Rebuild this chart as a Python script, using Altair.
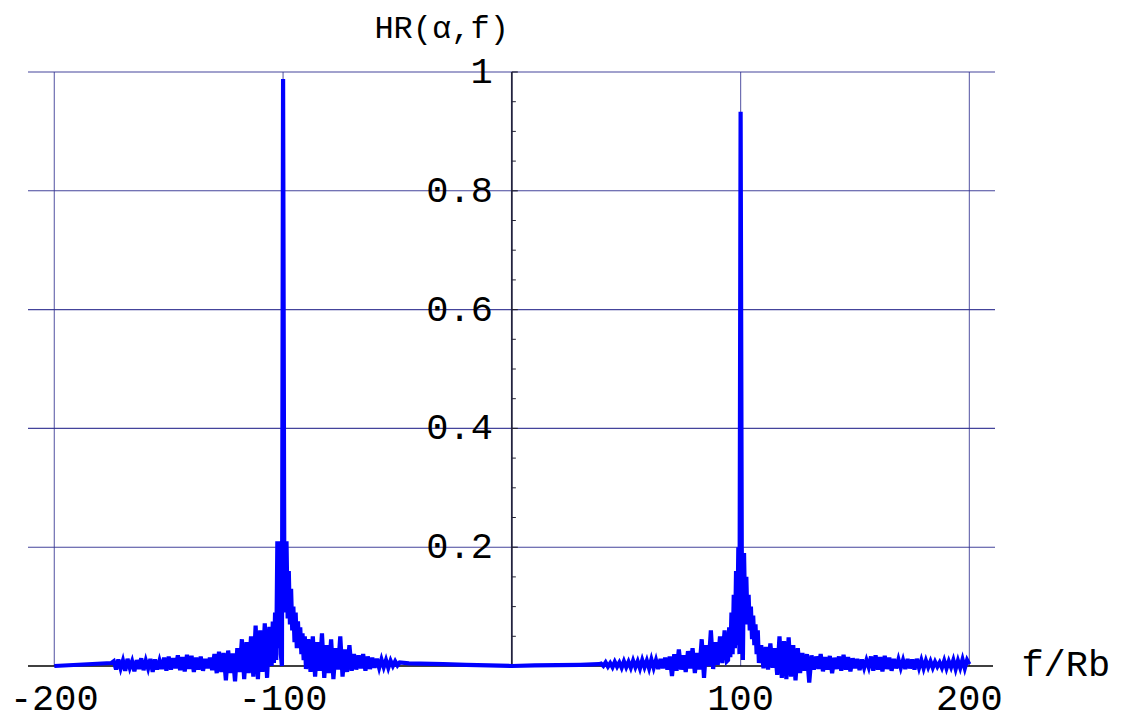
import altair as alt
import pandas as pd
import numpy as np

# ---------------- data ----------------
start_f = [-200.0, -175.0]
start_v = [0.0, 0.005]

left_noise_f = np.arange(-174, -104, 1.0)          # -174 .. -105
left_noise_v = [
    0.008, -0.006, 0.011, -0.004, 0.009, -0.008, 0.012, -0.003, 0.008, -0.009,
    0.010, -0.005, 0.013, -0.007, 0.009, -0.004, 0.012, -0.010, 0.011, -0.006,
    0.009, -0.005, 0.014, -0.008, 0.016, -0.006, 0.013, -0.004, 0.018, -0.007,
    0.015, -0.009, 0.019, -0.005, 0.017, -0.010, 0.014, -0.006, 0.016, -0.008,
    0.012, -0.004, 0.014, -0.007, 0.020, -0.012, 0.024, -0.010, 0.022, -0.024,
    0.026, -0.012, 0.021, -0.026, 0.030, -0.010, 0.045, -0.022, 0.040, -0.012,
    0.050, -0.018, 0.068, -0.022, 0.060, -0.010, 0.072, -0.020, 0.066, 0.000,
]

left_peak_f = np.arange(-104.5, -89.75, 0.5)       # -104.5 .. -90.0
left_peak_v = [
    0.075, 0.005, 0.09, 0.01, 0.21, 0.03, 0.21, 0.02, 0.0, 0.988,
    0.21, 0.09, 0.21, 0.08, 0.16, 0.07, 0.13, 0.06, 0.10, 0.04,
    0.09, 0.03, 0.075, 0.03, 0.065, 0.02, 0.055, 0.01, 0.05, -0.005,
]

left_tail_f = np.arange(-89, -48, 1.0)             # -89 .. -49
left_tail_v = [
    0.045, -0.010, 0.050, -0.018, 0.040, -0.008, 0.055, -0.020, 0.035, -0.012,
    0.045, -0.022, 0.030, -0.006, 0.050, -0.018, 0.028, -0.010, 0.035, -0.008,
    0.020, -0.006, 0.018, -0.004, 0.020, -0.008, 0.016, -0.005, 0.014, -0.003,
    0.012, -0.003, 0.011, -0.002, 0.010, -0.003, 0.009, 0.000, 0.008, 0.001, 0.006,
]

center_f = [-45.0, -40.0, -30.0, -20.0, -10.0, 0.0, 10.0, 20.0, 30.0, 38.0]
center_v = [0.0045, 0.004, 0.003, 0.002, 0.001, 0.0, 0.001, 0.0015, 0.002, 0.003]

right_rise_f = np.arange(39, 95, 1.0)              # 39 .. 94
right_rise_v = [
    0.004, 0.000, 0.006, -0.001, 0.005, -0.002, 0.007, -0.001, 0.006, -0.003,
    0.008, -0.002, 0.007, -0.003, 0.009, -0.002, 0.008, -0.004, 0.010, -0.002,
    0.009, -0.004, 0.011, -0.003, 0.010, -0.005, 0.012, -0.004, 0.014, -0.006,
    0.016, -0.017, 0.020, -0.008, 0.028, -0.006, 0.018, -0.010, 0.025, -0.004,
    0.030, -0.012, 0.022, -0.006, 0.045, -0.020, 0.035, 0.000, 0.060, -0.005,
    0.040, 0.002, 0.050, 0.005, 0.060, 0.008,
]

right_peak_f = np.arange(94.5, 108.25, 0.5)        # 94.5 .. 108.0
right_peak_v = [
    0.01, 0.065, 0.015, 0.09, 0.02, 0.12, 0.03, 0.16, 0.035, 0.20,
    0.02, 0.933, 0.20, 0.01, 0.19, 0.08, 0.15, 0.07, 0.12, 0.06,
    0.10, 0.045, 0.085, 0.035, 0.07, 0.02, 0.06, 0.005,
]

right_tail_f = np.arange(109, 201, 1.0)            # 109 .. 200
right_tail_v = [
    0.035, -0.004, 0.032, -0.006, 0.038, -0.003, 0.030, -0.015, 0.050, -0.020,
    0.042, -0.022, 0.048, -0.018, 0.035, -0.024, 0.030, -0.012, 0.022, -0.008,
    0.020, -0.028, 0.018, -0.006, 0.016, -0.005, 0.020, -0.009, 0.015, -0.006,
    0.017, -0.012, 0.014, -0.005, 0.016, -0.008, 0.019, -0.006, 0.015, -0.009,
    0.013, -0.004, 0.012, -0.007, 0.011, -0.003, 0.010, -0.002, 0.016, -0.008,
    0.018, -0.006, 0.015, -0.009, 0.017, -0.005, 0.014, -0.008, 0.012, -0.004,
    0.011, -0.003, 0.010, -0.005, 0.012, -0.004, 0.011, -0.006, 0.012, -0.003,
    0.010, -0.004, 0.009, -0.002, 0.008, -0.003, 0.007, -0.001, 0.006, -0.003,
    0.009, -0.004, 0.008, -0.002, 0.010, -0.005, 0.009, -0.003, 0.011, -0.004,
    0.010, 0.003,
]

x_grid = [-200, -100, 100, 200]
y_grid = [0.2, 0.4, 0.6, 0.8, 1.0]
x_tick_labels = ["-200", "-100", "100", "200"]
y_tick_labels = ["0.2", "0.4", "0.6", "0.8", "1"]
y_minor = [0.05, 0.1, 0.15, 0.25, 0.3, 0.35, 0.45, 0.5, 0.55, 0.65, 0.7, 0.75, 0.85, 0.9, 0.95]
y_label = "HR(α,f)"
x_label = "f/Rb"

# ---------------- build ----------------
freqs = np.concatenate([start_f, left_noise_f, left_peak_f, left_tail_f, center_f,
                        right_rise_f, right_peak_f, right_tail_f])
vals = np.concatenate([start_v, left_noise_v, left_peak_v, left_tail_v, center_v,
                       right_rise_v, right_peak_v, right_tail_v])
spec = pd.DataFrame({"f": freqs, "h": vals, "order": np.arange(len(freqs))})

W, H = 967, 594
FONT = "Courier New, Liberation Mono, monospace"
xs = alt.Scale(domain=[-211.5, 211.2], nice=False, zero=False)
ys = alt.Scale(domain=[0, 1], nice=False, zero=False)
GRID = "#303090"

hgrid = alt.Chart(pd.DataFrame({"y": y_grid})).mark_rule(
    color=GRID, strokeWidth=1.1, opacity=0.9
).encode(y=alt.Y("y:Q", scale=ys, axis=None), x=alt.value(0), x2=alt.value(W))

vgrid = alt.Chart(pd.DataFrame({"x": x_grid, "y0": [0] * 4, "y1": [1] * 4})).mark_rule(
    color=GRID, strokeWidth=1.2, opacity=0.7
).encode(x=alt.X("x:Q", scale=xs, axis=None), y=alt.Y("y0:Q", scale=ys, axis=None), y2="y1:Q")

xaxis = alt.Chart(pd.DataFrame({"y": [0]})).mark_rule(color="black", strokeWidth=1.4).encode(
    y=alt.Y("y:Q", scale=ys, axis=None), x=alt.value(0), x2=alt.value(W - 2))

yaxis = alt.Chart(pd.DataFrame({"x": [0], "y0": [0], "y1": [1]})).mark_rule(
    color="#23233f", strokeWidth=1.8
).encode(x=alt.X("x:Q", scale=xs, axis=None), y=alt.Y("y0:Q", scale=ys, axis=None), y2="y1:Q")

minor = alt.Chart(pd.DataFrame({"y": y_minor, "x0": 0.0, "x1": 1.75})).mark_rule(
    color="#222233", strokeWidth=1
).encode(x=alt.X("x0:Q", scale=xs, axis=None), x2="x1:Q", y=alt.Y("y:Q", scale=ys, axis=None))

major = alt.Chart(pd.DataFrame({"y": y_grid, "x0": 0.0, "x1": 2.6})).mark_rule(
    color="#222233", strokeWidth=1.2
).encode(x=alt.X("x0:Q", scale=xs, axis=None), x2="x1:Q", y=alt.Y("y:Q", scale=ys, axis=None))

line = alt.Chart(spec).mark_line(color="#0000ff", strokeWidth=4.2, strokeJoin="miter").encode(
    x=alt.X("f:Q", scale=xs, axis=None), y=alt.Y("h:Q", scale=ys, axis=None), order="order:Q")

xlab = alt.Chart(pd.DataFrame({"x": x_grid, "t": x_tick_labels, "y": 0})).mark_text(
    font=FONT, fontSize=37, align="center", baseline="middle", dy=33, color="black"
).encode(x=alt.X("x:Q", scale=xs, axis=None), y=alt.Y("y:Q", scale=ys, axis=None), text="t:N")

ylab = alt.Chart(pd.DataFrame({"y": y_grid, "t": y_tick_labels, "x": 0})).mark_text(
    font=FONT, fontSize=37, align="right", baseline="middle", dx=-19, color="black"
).encode(x=alt.X("x:Q", scale=xs, axis=None), y=alt.Y("y:Q", scale=ys, axis=None), text="t:N")

ytitle = alt.Chart(pd.DataFrame({"x": [0], "y": [1], "t": [y_label]})).mark_text(
    font=FONT, fontSize=32, align="right", baseline="middle", dx=-3, dy=-44, color="black"
).encode(x=alt.X("x:Q", scale=xs, axis=None), y=alt.Y("y:Q", scale=ys, axis=None), text="t:N")

xtitle = alt.Chart(pd.DataFrame({"x": [200], "y": [0], "t": [x_label]})).mark_text(
    font=FONT, fontSize=37, align="left", baseline="middle", dx=52, dy=-1, color="black"
).encode(x=alt.X("x:Q", scale=xs, axis=None), y=alt.Y("y:Q", scale=ys, axis=None), text="t:N")

chart = alt.layer(
    hgrid, vgrid, xaxis, yaxis, minor, major, line, xlab, ylab, ytitle, xtitle
).properties(
    width=W, height=H,
    autosize=alt.AutoSizeParams(type="none"),
    padding={"left": 20, "top": 64, "right": 117, "bottom": 49},
).configure_view(stroke=None)

chart.save("out.html", embed_options={"renderer": "svg", "actions": False})
